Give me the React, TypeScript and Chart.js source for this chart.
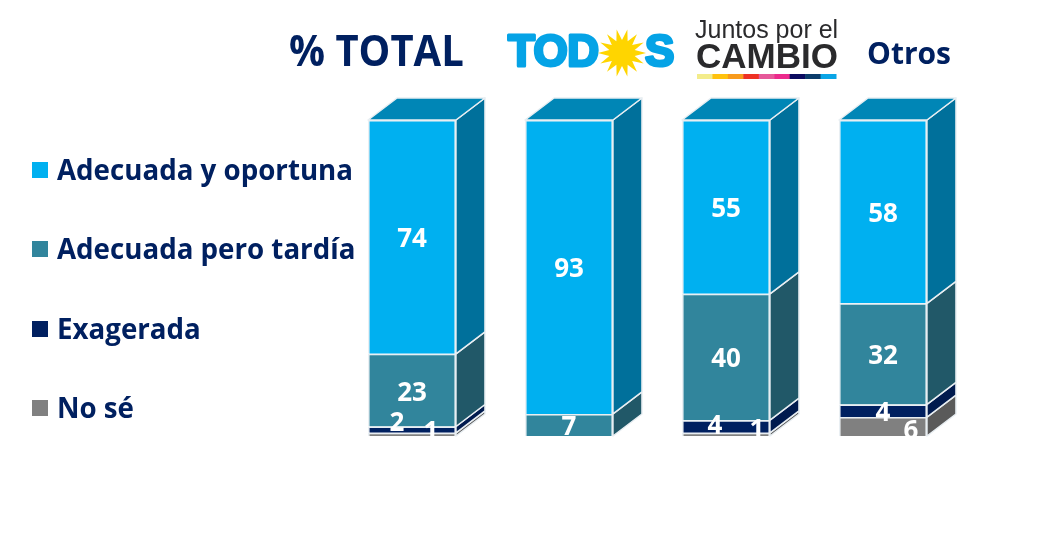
import React, { useEffect, useRef } from "react";
import { Chart, registerables } from "chart.js";

Chart.register(...registerables);

const categories = ["TODOS (total)", "TODOS", "Juntos por el Cambio", "Otros"];
const seriesNames = ["Adecuada y oportuna", "Adecuada pero tardía", "Exagerada", "No sé"];
const oportuna = [74, 93, 55, 58];
const tardia = [23, 7, 40, 32];
const exagerada = [2, 0, 4, 4];
const noSe = [1, 0, 1, 6];

const frontColors = ["#00B0F0", "#31859C", "#002060", "#808080"];
const sideColors = ["#00709B", "#215868", "#001A4E", "#5A5A5A"];
const topColor = "#0086B6";
const navy = "#002060";
const stripColors = ["#F3EC8B", "#FFC20E", "#F89B1C", "#EE3124", "#E6589A", "#EC2A8C", "#0B0B60", "#0B3C6B", "#0AA5E6"];

const DEPTH_X = 29;
const DEPTH_Y = 22;
const LABEL_FONT = "bold 26px 'Open Sans'";
const LEGEND_FONT = "bold 27.7px 'Open Sans'";

// label nudges for the thin segments: [series name index, bar, dx, dy]
const labelNudges = [
  [2, 0, -15, -9],
  [3, 0, 19, -5],
  [2, 2, -11, -3],
  [3, 2, 31, -7],
  [3, 3, 28, 2],
];

const threeD = {
  id: "threeD",
  beforeDatasetsDraw(chart: any) {
    const { ctx } = chart;
    ctx.save();
    ctx.strokeStyle = "#E8EEF2";
    ctx.lineWidth = 1.5;
    ctx.lineJoin = "round";
    const face = (pts: number[][], fill: string) => {
      ctx.beginPath();
      pts.forEach((p, i) => (i ? ctx.lineTo(p[0], p[1]) : ctx.moveTo(p[0], p[1])));
      ctx.closePath();
      ctx.fillStyle = fill;
      ctx.fill();
      ctx.stroke();
    };
    chart.data.datasets.forEach((ds: any, d: number) => {
      chart.getDatasetMeta(d).data.forEach((el: any, i: number) => {
        if (!ds.data[i]) return;
        const r = el.x + el.width / 2;
        const l = el.x - el.width / 2;
        const t = el.y;
        const b = el.base;
        face([[r, t], [r + DEPTH_X, t - DEPTH_Y], [r + DEPTH_X, b - DEPTH_Y], [r, b]], ds.sideColor);
        if (ds.label === seriesNames[0]) {
          face([[l, t], [l + DEPTH_X, t - DEPTH_Y], [r + DEPTH_X, t - DEPTH_Y], [r, t]], topColor);
        }
      });
    });
    ctx.restore();
  },
  afterDatasetsDraw(chart: any) {
    const { ctx } = chart;
    ctx.save();
    ctx.fillStyle = "#fff";
    ctx.font = LABEL_FONT;
    ctx.textAlign = "center";
    ctx.textBaseline = "middle";
    chart.data.datasets.forEach((ds: any, d: number) => {
      const s = seriesNames.indexOf(ds.label);
      chart.getDatasetMeta(d).data.forEach((el: any, i: number) => {
        const v = ds.data[i];
        if (!v) return;
        const n = labelNudges.find((m) => m[0] === s && m[1] === i);
        ctx.fillText(String(v), el.x + (n ? n[2] : 0), (el.y + el.base) / 2 + 3 + (n ? n[3] : 0));
      });
    });
    ctx.restore();
  },
  afterDraw(chart: any) {
    const { ctx } = chart;
    ctx.save();
    ctx.textBaseline = "middle";
    ctx.textAlign = "left";
    const rowY = [170, 249, 329, 408];
    ctx.font = LEGEND_FONT;
    seriesNames.forEach((name, i) => {
      ctx.fillStyle = frontColors[i];
      ctx.fillRect(32, rowY[i] - 8, 16, 16);
      ctx.fillStyle = navy;
      ctx.fillText(name, 57, rowY[i] + 2);
    });
    ctx.save();
    ctx.translate(289, 54);
    ctx.scale(0.93, 1);
    ctx.font = "bold 43px 'Open Sans'";
    ctx.fillText("% TOTAL", 0, 0);
    ctx.restore();
    ctx.font = "bold 30px 'Open Sans'";
    ctx.fillText("Otros", 867, 55);
    // TODOS mark
    ctx.fillStyle = "#05A3E6";
    ctx.strokeStyle = "#05A3E6";
    ctx.lineWidth = 3;
    ctx.lineJoin = "round";
    ctx.font = "bold 44px 'Liberation Sans'";
    (ctx as any).letterSpacing = "-0.5px";
    ctx.strokeText("TOD", 508, 54);
    ctx.fillText("TOD", 508, 54);
    ctx.strokeText("S", 645, 54);
    ctx.fillText("S", 645, 54);
    (ctx as any).letterSpacing = "0px";
    ctx.fillStyle = "#FFD500";
    ctx.beginPath();
    const rays = 14;
    for (let k = 0; k < rays * 2; k++) {
      const rad = k % 2 ? 13 : 24;
      const a = (k * Math.PI) / rays;
      const px = 622 + rad * Math.cos(a);
      const py = 53 + rad * Math.sin(a);
      k ? ctx.lineTo(px, py) : ctx.moveTo(px, py);
    }
    ctx.closePath();
    ctx.fill();
    // Juntos por el Cambio mark
    ctx.fillStyle = "#2A2A2C";
    ctx.font = "25px 'Liberation Sans'";
    ctx.fillText("Juntos por el", 695, 31);
    ctx.font = "bold 35px 'Liberation Sans'";
    ctx.fillText("CAMBIO", 696, 58);
    stripColors.forEach((c, i) => {
      ctx.fillStyle = c;
      ctx.fillRect(697 + (i * 139) / stripColors.length, 74, 139 / stripColors.length + 0.5, 5);
    });
    ctx.restore();
  },
};

export default function App() {
  const ref = useRef<HTMLCanvasElement>(null);
  useEffect(() => {
    const make = (label: string, data: number[], i: number) => ({
      label,
      data,
      backgroundColor: frontColors[i],
      sideColor: sideColors[i],
      borderColor: "#E8EEF2",
      borderWidth: 1.5,
      barPercentage: 0.56,
      categoryPercentage: 1,
    });
    const chart = new Chart(ref.current!, {
      type: "bar",
      data: {
        labels: categories,
        datasets: [
          make(seriesNames[3], noSe, 3),
          make(seriesNames[2], exagerada, 2),
          make(seriesNames[1], tardia, 1),
          make(seriesNames[0], oportuna, 0),
        ],
      },
      options: {
        responsive: false,
        animation: false,
        layout: { padding: { left: 333.5, right: 96.5, top: 120, bottom: 99 } },
        plugins: { legend: { display: false }, tooltip: { enabled: false } },
        scales: {
          x: { stacked: true, display: false },
          y: { stacked: true, display: false, min: 0, max: 100 },
        },
      },
      plugins: [threeD],
    } as any);
    return () => chart.destroy();
  }, []);
  return (
    <div style={{ position: "absolute", left: 0, top: 0, width: 1058, height: 535 }}>
      <canvas ref={ref} width={1058} height={535} style={{ display: "block" }} />
    </div>
  );
}
